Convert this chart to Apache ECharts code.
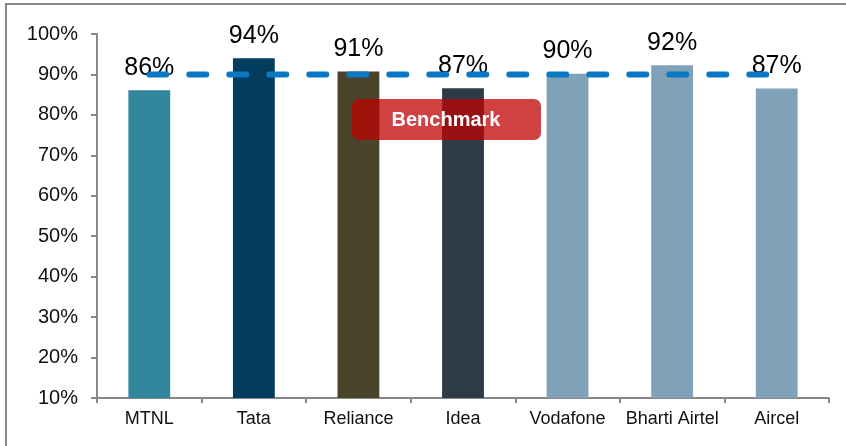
<!DOCTYPE html>
<html>
<head>
<meta charset="utf-8">
<script src="https://cdn.jsdelivr.net/npm/echarts@6/dist/echarts.min.js"></script>
<style>
  html, body { margin: 0; padding: 0; background: #fff; }
  #main { width: 846px; height: 446px; }
</style>
</head>
<body>
<div id="main"></div>
<script>
const categories = ['MTNL', 'Tata', 'Reliance', 'Idea', 'Vodafone', 'Bharti Airtel', 'Aircel']
const values = [86.1, 94.0, 90.7, 86.6, 90.2, 92.3, 86.5]
const labels = ['86%', '94%', '91%', '87%', '90%', '92%', '87%']
const benchmark = [90, 90, 90, 90, 90, 90, 90]
const barColors = ['#31859c', '#023c5e', '#4a452a', '#2e3b47', '#80a2b9', '#80a2b9', '#80a2b9']

const chart = echarts.init(document.getElementById('main'))
const font = 'Liberation Sans, Arial, sans-serif'

const option = {
  animation: false,
  grid: { left: 97, right: 17, top: 34, bottom: 48 },
  xAxis: {
    type: 'category',
    data: categories,
    axisLine: { lineStyle: { color: '#888', width: 2 } },
    axisTick: { show: true, length: 5, lineStyle: { color: '#888', width: 2 } },
    axisLabel: { color: '#111', fontSize: 18, fontFamily: font, margin: 12, interval: 0 }
  },
  yAxis: {
    type: 'value',
    min: 10,
    max: 100,
    interval: 10,
    splitLine: { show: false },
    axisLine: { show: true, lineStyle: { color: '#888', width: 2 } },
    axisTick: { show: true, length: 6, lineStyle: { color: '#888', width: 2 } },
    axisLabel: { color: '#111', fontSize: 20, fontFamily: font, margin: 19, formatter: '{value}%' }
  },
  series: [
    {
      type: 'bar',
      barWidth: '40%',
      data: values.map((v, i) => ({ value: v, itemStyle: { color: barColors[i] } })),
      label: {
        show: true,
        position: 'top',
        distance: 10,
        fontSize: 25,
        fontFamily: font,
        color: '#000',
        formatter: p => labels[p.dataIndex]
      },
      z: 2
    },
    {
      type: 'line',
      data: benchmark,
      symbol: 'none',
      lineStyle: { color: '#0a78c2', width: 6, type: [17, 23], cap: 'round' },
      z: 5
    }
  ],
  graphic: [
    {
      type: 'rect',
      shape: { x: 6, y: 4, width: 860, height: 460 },
      style: { fill: 'none', stroke: '#888', lineWidth: 2 },
      silent: true
    },
    {
      type: 'rect',
      shape: { x: 352, y: 99, width: 189, height: 41, r: 7 },
      style: { fill: 'rgba(192,0,0,0.74)' },
      z: 10
    },
    {
      type: 'text',
      x: 446,
      y: 120,
      style: {
        text: 'Benchmark',
        fill: '#fff',
        font: 'bold 20px Liberation Sans, Arial, sans-serif',
        textAlign: 'center',
        textVerticalAlign: 'middle'
      },
      z: 11
    }
  ]
}
option && chart.setOption(option)
</script>
</body>
</html>
